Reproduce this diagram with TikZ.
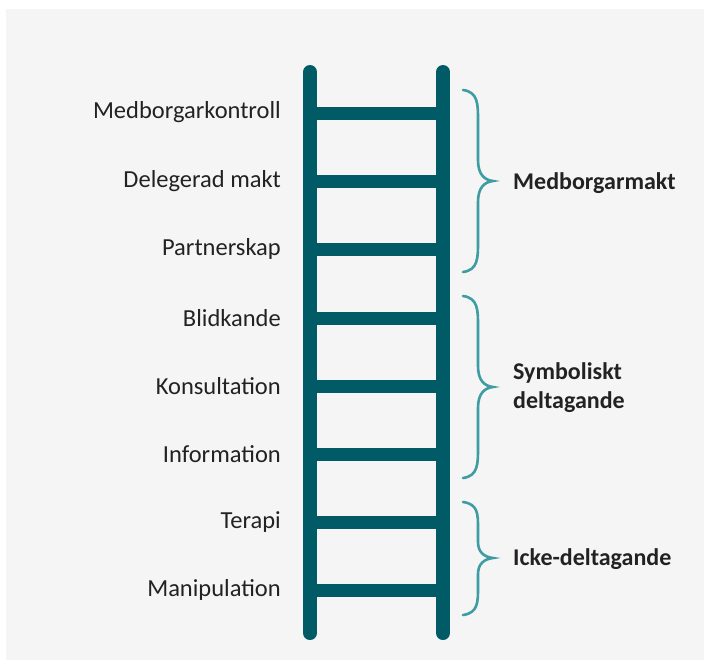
\documentclass[tikz,border=0pt]{standalone}
\usepackage{fontspec}
\setmainfont{Carlito}
\usetikzlibrary{positioning}

\definecolor{railteal}{HTML}{005B67}
\definecolor{braceteal}{HTML}{3E9CA2}
\definecolor{pagegray}{HTML}{F5F5F5}
\definecolor{labeltext}{HTML}{222222}

\tikzset{
  rail/.style={line width=14pt, railteal, line cap=round},
  rung/.style={line width=13pt, railteal},
  curly/.style={line width=2.6pt, braceteal, line cap=round},
  steplabel/.style={anchor=east, font=\fontsize{24.5}{28}\selectfont, text=labeltext, inner sep=0pt},
  grouplabel/.style={anchor=west, align=left, font=\fontsize{24}{29}\selectfont\bfseries, text=labeltext, inner sep=0pt},
}

\begin{document}
\begin{tikzpicture}[x=1pt, y=-1pt]
    \useasboundingbox (0,0) rectangle (704,662);
    \fill [pagegray] (6,9) rectangle (704,660);% background panel

    \coordinate (lt) at (310,72);
    \coordinate (lb) at (310,633);
    \coordinate (rt) at (443,72);
    \coordinate (rb) at (443,633);

    % rungs
    \draw [rung] (310,113) -- (443,113);
    \draw [rung] (310,181) -- (443,181);
    \draw [rung] (310,249) -- (443,249);
    \draw [rung] (310,318) -- (443,318);
    \draw [rung] (310,386) -- (443,386);
    \draw [rung] (310,454) -- (443,454);
    \draw [rung] (310,522) -- (443,522);
    \draw [rung] (310,590) -- (443,590);

    \draw [rail] (lt) -- (lb);% left rail
    \draw [rail] (rt) -- (rb);% right rail

    \node [steplabel] (kontroll) at (281,112) {Medborgarkontroll};
    \node [steplabel] (delegerad) at (281,181) {Delegerad makt};
    \node [steplabel] (partner) at (281,249) {Partnerskap};
    \node [steplabel] (blid) at (281,318) {Blidkande};
    \node [steplabel] (konsult) at (281,386) {Konsultation};
    \node [steplabel] (info) at (281,454) {Information};
    \node [steplabel] (terapi) at (281,522) {Terapi};
    \node [steplabel] (manip) at (281,590) {Manipulation};

    % braces
    \draw [curly] (463,90) .. controls (478,92) and (478,104) .. (478,120)
      -- (478,160) .. controls (478,174) and (484,180) .. (493,181)
      .. controls (484,182) and (478,188) .. (478,202)
      -- (478,242) .. controls (478,258) and (478,270) .. (463,272);
    \draw [curly] (463,296) .. controls (478,298) and (478,310) .. (478,326)
      -- (478,366) .. controls (478,380) and (484,386) .. (493,387)
      .. controls (484,388) and (478,394) .. (478,408)
      -- (478,448) .. controls (478,464) and (478,476) .. (463,478);
    \draw [curly] (463,502) .. controls (478,504) and (478,514) .. (478,528)
      -- (478,542) .. controls (478,552) and (484,557) .. (493,558)
      .. controls (484,559) and (478,564) .. (478,574)
      -- (478,588) .. controls (478,602) and (478,613) .. (463,615);

    \node [grouplabel] (medmakt) at (513,183) {Medborgarmakt};
    \node [grouplabel] (symbol) at (513,388) {Symboliskt\\deltagande};
    \node [grouplabel] (icke) at (513,559) {Icke-deltagande};
\end{tikzpicture}
\end{document}
